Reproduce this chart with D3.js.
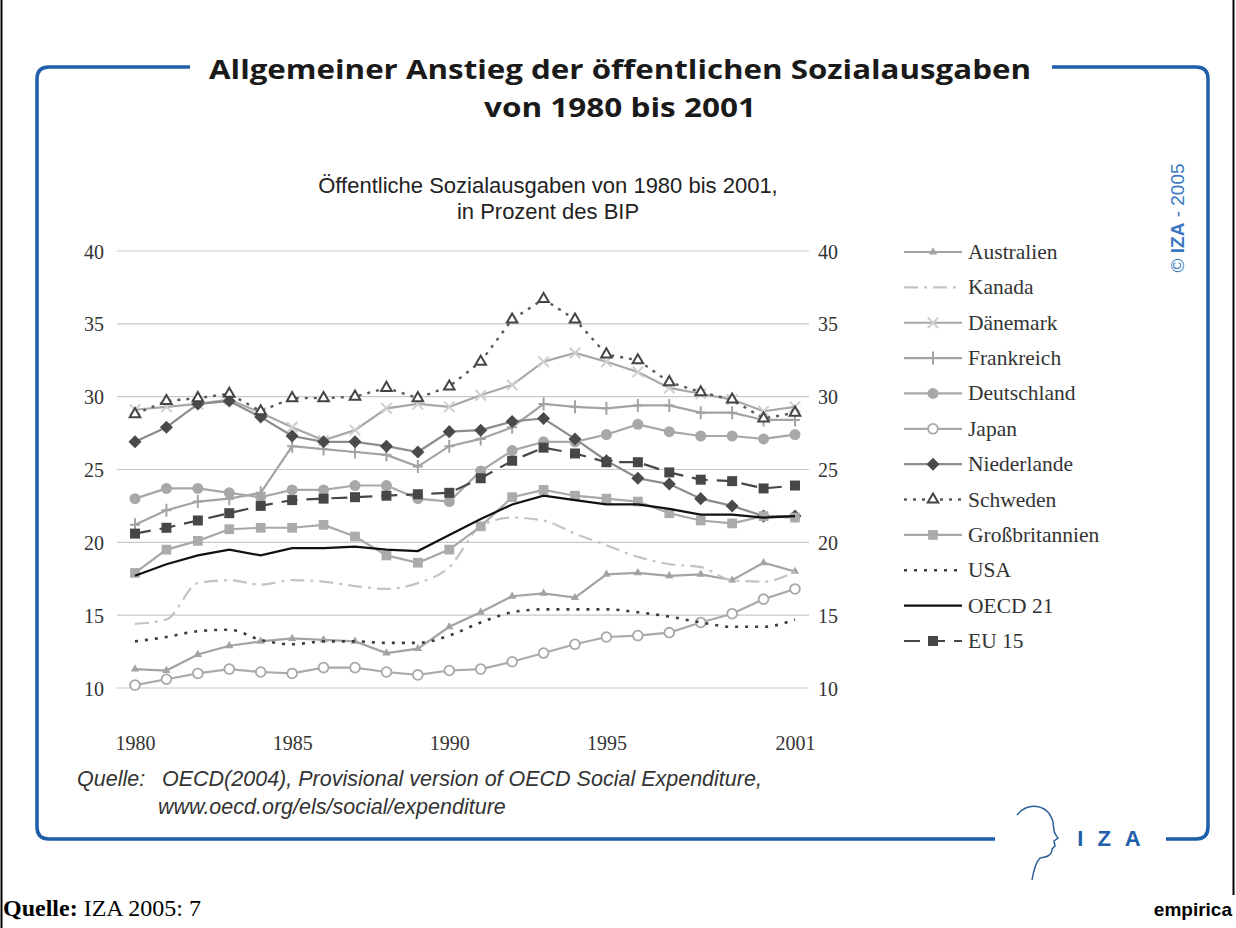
<!DOCTYPE html>
<html lang="de">
<head>
<meta charset="utf-8">
<title>Sozialausgaben</title>
<script src="https://cdn.jsdelivr.net/npm/d3@7"></script>
<style>
    body { margin: 0; background: #fff; }
    svg { display: block; }
    .axis text { font-family: "Liberation Serif", serif; font-size: 20px; fill: #333; }
    .axis path, .axis line { display: none; }
    .grid line { stroke: #c8c8c8; stroke-width: 1.2; }
    .legend text { font-family: "Liberation Serif", serif; font-size: 21.5px; fill: #333; }
</style>
</head>
<body>
<div id="chart"></div>
<script>

// years on the x axis
var years = d3.range(1980, 2002);
var xTicks = [1980, 1985, 1990, 1995, 2001];
var yTicks = [10, 15, 20, 25, 30, 35, 40];

// values (% of GDP)
var australien   = [11.3, 11.2, 12.3, 12.9, 13.2, 13.4, 13.3, 13.2, 12.4, 12.7, 14.2, 15.2, 16.3, 16.5, 16.2, 17.8, 17.9, 17.7, 17.8, 17.4, 18.6, 18.0];
var kanada       = [14.4, 14.7, 17.2, 17.4, 17.1, 17.4, 17.3, 17.0, 16.8, 17.2, 18.3, 21.1, 21.7, 21.5, 20.6, 19.8, 19.0, 18.5, 18.3, 17.4, 17.3, 18.0];
var daenemark    = [29.1, 29.3, 29.5, 29.8, 28.9, 27.9, 27.0, 27.7, 29.2, 29.5, 29.3, 30.1, 30.8, 32.4, 33.0, 32.4, 31.7, 30.6, 30.2, 29.8, 29.0, 29.3];
var frankreich   = [21.2, 22.2, 22.8, 23.0, 23.4, 26.6, 26.4, 26.2, 26.0, 25.2, 26.6, 27.1, 27.9, 29.5, 29.3, 29.2, 29.4, 29.4, 28.9, 28.9, 28.4, 28.4];
var deutschland  = [23.0, 23.7, 23.7, 23.4, 23.1, 23.6, 23.6, 23.9, 23.9, 23.0, 22.8, 24.9, 26.3, 26.9, 26.9, 27.4, 28.1, 27.6, 27.3, 27.3, 27.1, 27.4];
var japan        = [10.2, 10.6, 11.0, 11.3, 11.1, 11.0, 11.4, 11.4, 11.1, 10.9, 11.2, 11.3, 11.8, 12.4, 13.0, 13.5, 13.6, 13.8, 14.5, 15.1, 16.1, 16.8];
var niederlande  = [26.9, 27.9, 29.5, 29.7, 28.6, 27.3, 26.9, 26.9, 26.6, 26.2, 27.6, 27.7, 28.3, 28.5, 27.1, 25.6, 24.4, 24.0, 23.0, 22.5, 21.8, 21.8];
var schweden     = [28.8, 29.7, 29.9, 30.2, 29.0, 29.9, 29.9, 30.0, 30.6, 29.9, 30.7, 32.4, 35.3, 36.7, 35.3, 32.9, 32.5, 31.0, 30.3, 29.8, 28.5, 28.9];
var grossbritannien = [17.9, 19.5, 20.1, 20.9, 21.0, 21.0, 21.2, 20.4, 19.1, 18.6, 19.5, 21.1, 23.1, 23.6, 23.2, 23.0, 22.8, 22.0, 21.5, 21.3, 21.8, 21.7];
var usa          = [13.2, 13.5, 13.9, 14.0, 13.3, 13.0, 13.2, 13.2, 13.1, 13.1, 13.6, 14.5, 15.2, 15.4, 15.4, 15.4, 15.2, 14.9, 14.5, 14.2, 14.2, 14.7];
var oecd21       = [17.7, 18.5, 19.1, 19.5, 19.1, 19.6, 19.6, 19.7, 19.5, 19.4, 20.5, 21.6, 22.6, 23.2, 22.9, 22.6, 22.6, 22.3, 21.9, 21.9, 21.7, 21.8];
var eu15         = [20.6, 21.0, 21.5, 22.0, 22.5, 22.9, 23.0, 23.1, 23.2, 23.3, 23.4, 24.4, 25.6, 26.5, 26.1, 25.5, 25.5, 24.8, 24.3, 24.2, 23.7, 23.9];

var names = ["Australien", "Kanada", "Dänemark", "Frankreich", "Deutschland", "Japan",
             "Niederlande", "Schweden", "Großbritannien", "USA", "OECD 21", "EU 15"];

// custom marker shapes
var symX = { draw: function(c, s) { var r = Math.sqrt(s) / 2;
    c.moveTo(-r, -r); c.lineTo(r, r); c.moveTo(r, -r); c.lineTo(-r, r); } };
var symPlus = { draw: function(c, s) { var r = Math.sqrt(s) / 2;
    c.moveTo(-r, 0); c.lineTo(r, 0); c.moveTo(0, -r * 1.3); c.lineTo(0, r * 1.3); } };
var symDiamond = { draw: function(c, s) { var r = Math.sqrt(s) / 2;
    c.moveTo(0, -r); c.lineTo(r, 0); c.lineTo(0, r); c.lineTo(-r, 0); c.closePath(); } };

var series = [
    {name: names[0], values: australien, color: "#a3a3a3", width: 2.2, dash: null, curve: false,
        marker: {type: d3.symbolTriangle, size: 30, fill: "#a3a3a3", stroke: "none"}},
    {name: names[1], values: kanada, color: "#c4c4c4", width: 2.2, dash: "14,6,3,6", curve: true, marker: null},
    {name: names[2], values: daenemark, color: "#a8a8a8", width: 2.2, dash: null, curve: false,
        marker: {type: symX, size: 110, fill: "none", stroke: "#cfcfcf", sw: 2}},
    {name: names[3], values: frankreich, color: "#a3a3a3", width: 2.2, dash: null, curve: false,
        marker: {type: symPlus, size: 100, fill: "none", stroke: "#a3a3a3", sw: 2}},
    {name: names[4], values: deutschland, color: "#a8a8a8", width: 2.2, dash: null, curve: false,
        marker: {type: d3.symbolCircle, size: 95, fill: "#a8a8a8", stroke: "none"}},
    {name: names[5], values: japan, color: "#aaaaaa", width: 2.2, dash: null, curve: false,
        marker: {type: d3.symbolCircle, size: 75, fill: "#fff", stroke: "#a8a8a8", sw: 1.8}},
    {name: names[6], values: niederlande, color: "#8c8c8c", width: 2.2, dash: null, curve: false,
        marker: {type: symDiamond, size: 170, fill: "#4a4a4a", stroke: "none"}},
    {name: names[7], values: schweden, color: "#5a5a5a", width: 2.4, dash: "3,6", curve: false,
        marker: {type: d3.symbolTriangle, size: 48, fill: "#fff", stroke: "#444", sw: 2}},
    {name: names[8], values: grossbritannien, color: "#a8a8a8", width: 2.2, dash: null, curve: false,
        marker: {type: d3.symbolSquare, size: 95, fill: "#ababab", stroke: "none"}},
    {name: names[9], values: usa, color: "#3c3c3c", width: 2.6, dash: "3,7", curve: true, marker: null},
    {name: names[10], values: oecd21, color: "#111", width: 2.2, dash: null, curve: false, marker: null},
    {name: names[11], values: eu15, color: "#474747", width: 2.2, dash: "16,9", curve: false,
        marker: {type: d3.symbolSquare, size: 100, fill: "#474747", stroke: "none"}}
];

var W = 1236, H = 928;
var svg = d3.select("#chart").append("svg")
    .attr("width", W)
    .attr("height", H);

// outer page frame
svg.append("line").attr("x1", 1.5).attr("x2", 1.5).attr("y1", 0).attr("y2", H)
    .attr("stroke", "#000").attr("stroke-width", 2);
svg.append("line").attr("x1", 1233.5).attr("x2", 1233.5).attr("y1", 0).attr("y2", 895)
    .attr("stroke", "#000").attr("stroke-width", 2);

// blue rounded frame with gaps for title and logo
var blue = "#1f5ea8";
var fl = 37, fr = 1208, ft = 67, fb = 839, rad = 12;
svg.append("path")
    .attr("d", "M190," + ft + " L" + (fl + rad) + "," + ft +
        " Q" + fl + "," + ft + " " + fl + "," + (ft + rad) +
        " L" + fl + "," + (fb - rad) + " Q" + fl + "," + fb + " " + (fl + rad) + "," + fb +
        " L995," + fb)
    .attr("fill", "none").attr("stroke", blue).attr("stroke-width", 3.5);
svg.append("path")
    .attr("d", "M1052," + ft + " L" + (fr - rad) + "," + ft +
        " Q" + fr + "," + ft + " " + fr + "," + (ft + rad) +
        " L" + fr + "," + (fb - rad) + " Q" + fr + "," + fb + " " + (fr - rad) + "," + fb +
        " L1166," + fb)
    .attr("fill", "none").attr("stroke", blue).attr("stroke-width", 3.5);

// title
svg.append("text")
    .attr("x", 620).attr("y", 79)
    .attr("text-anchor", "middle")
    .attr("textLength", 822).attr("lengthAdjust", "spacingAndGlyphs")
    .style("font-family", "'Open Sans', sans-serif").style("font-weight", "bold")
    .style("font-size", "27.5px").style("fill", "#1a1a1a")
    .text("Allgemeiner Anstieg der öffentlichen Sozialausgaben");
svg.append("text")
    .attr("x", 620).attr("y", 117)
    .attr("text-anchor", "middle")
    .attr("textLength", 272).attr("lengthAdjust", "spacingAndGlyphs")
    .style("font-family", "'Open Sans', sans-serif").style("font-weight", "bold")
    .style("font-size", "27.5px").style("fill", "#1a1a1a")
    .text("von 1980 bis 2001");

// subtitle
var sub = svg.append("text")
    .attr("text-anchor", "middle")
    .style("font-family", "'Liberation Sans', Arial, sans-serif")
    .style("font-size", "22px").style("fill", "#222");
sub.append("tspan").attr("x", 548).attr("y", 193).text("Öffentliche Sozialausgaben von 1980 bis 2001,");
sub.append("tspan").attr("x", 548).attr("y", 219).text("in Prozent des BIP");

// copyright, vertical
var copy = svg.append("text")
    .attr("transform", "translate(1184,218) rotate(-90)")
    .attr("text-anchor", "middle")
    .style("font-family", "'Liberation Sans', Arial, sans-serif")
    .style("font-size", "19px").style("fill", "#3b78c2");
copy.append("tspan").text("© ");
copy.append("tspan").style("font-weight", "bold").text("IZA");
copy.append("tspan").text(" - 2005");

// chart area
var margin = {left: 117, right: 809, top: 251, bottom: 688};
var x = d3.scaleLinear().domain([1980, 2001]).range([135, 795]);
var y = d3.scaleLinear().domain([10, 40]).range([margin.bottom, margin.top]);

svg.append("g").attr("class", "grid")
    .selectAll("line").data(yTicks).enter().append("line")
    .attr("x1", margin.left).attr("x2", margin.right)
    .attr("y1", function(d) { return y(d); })
    .attr("y2", function(d) { return y(d); });

svg.append("g").attr("class", "axis")
    .attr("transform", "translate(104,0)")
    .call(d3.axisLeft(y).tickValues(yTicks).tickSize(0).tickPadding(0))
    .selectAll("text").attr("dy", "0.35em");

svg.append("g").attr("class", "axis")
    .attr("transform", "translate(818,0)")
    .call(d3.axisRight(y).tickValues(yTicks).tickSize(0).tickPadding(0))
    .selectAll("text").attr("dy", "0.35em");

svg.append("g").attr("class", "axis")
    .attr("transform", "translate(0,736)")
    .call(d3.axisBottom(x).tickValues(xTicks).tickFormat(d3.format("d")).tickSize(0).tickPadding(0));

// lines and markers
series.forEach(function(s) {
    var pts = years.map(function(yr, i) { return [yr, s.values[i]]; });
    var line = d3.line()
        .x(function(d) { return x(d[0]); })
        .y(function(d) { return y(d[1]); })
        .curve(s.curve ? d3.curveMonotoneX : d3.curveLinear);

    svg.append("path")
        .datum(pts)
        .attr("fill", "none")
        .attr("stroke", s.color)
        .attr("stroke-width", s.width)
        .attr("stroke-dasharray", s.dash)
        .attr("d", line);

    if (s.marker) {
        var sym = d3.symbol().type(s.marker.type).size(s.marker.size);
        svg.append("g").selectAll("path").data(pts).enter().append("path")
            .attr("transform", function(d) { return "translate(" + x(d[0]) + "," + y(d[1]) + ")"; })
            .attr("d", sym)
            .attr("fill", s.marker.fill)
            .attr("stroke", s.marker.stroke)
            .attr("stroke-width", s.marker.sw || 0);
    }
});

// legend
var legend = svg.append("g").attr("class", "legend");
var ly = d3.scalePoint().domain(names).range([252, 641]);
series.forEach(function(s) {
    var g = legend.append("g").attr("transform", "translate(0," + ly(s.name) + ")");
    g.append("line")
        .attr("x1", 904).attr("x2", 962)
        .attr("stroke", s.color).attr("stroke-width", s.width)
        .attr("stroke-dasharray", s.dash);
    if (s.marker) {
        g.append("path")
            .attr("transform", "translate(933,0)")
            .attr("d", d3.symbol().type(s.marker.type).size(s.marker.size)())
            .attr("fill", s.marker.fill)
            .attr("stroke", s.marker.stroke)
            .attr("stroke-width", s.marker.sw || 0);
    }
    g.append("text").attr("x", 968).attr("y", 7).text(s.name);
});

// source line inside the frame
var src = svg.append("g")
    .style("font-family", "'Liberation Sans', Arial, sans-serif")
    .style("font-size", "21.5px").style("font-style", "italic").style("fill", "#333");
src.append("text").attr("x", 77).attr("y", 786).text("Quelle:");
src.append("text").attr("x", 162).attr("y", 786).text("OECD(2004), Provisional version of OECD Social Expenditure,");
src.append("text").attr("x", 158).attr("y", 814).text("www.oecd.org/els/social/expenditure");

// IZA logo
svg.append("path")
    .attr("d", "M1017,815 C1026,802 1048,803 1053,822 C1054,829 1053,832 1058,838 L1054,841 L1055,846 L1052,849 C1052,856 1046,857 1040,858 C1036,862 1034,868 1032,880")
    .attr("fill", "none").attr("stroke", "#2b5f9c").attr("stroke-width", 1.5);
svg.append("text")
    .attr("x", 1116).attr("y", 846)
    .attr("text-anchor", "middle")
    .style("font-family", "'Liberation Sans', Arial, sans-serif")
    .style("font-weight", "bold").style("font-size", "22px")
    .style("letter-spacing", "14px").style("fill", blue)
    .text("IZA");

// footer
var foot = svg.append("text")
    .attr("x", 3).attr("y", 916)
    .style("font-family", "'Liberation Serif', serif")
    .style("font-size", "24px").style("fill", "#000");
foot.append("tspan").style("font-weight", "bold").text("Quelle:");
foot.append("tspan").text(" IZA 2005: 7");

svg.append("text")
    .attr("x", 1232).attr("y", 916)
    .attr("text-anchor", "end")
    .style("font-family", "'Liberation Sans', Arial, sans-serif")
    .style("font-weight", "bold").style("font-size", "19px").style("fill", "#000")
    .text("empirica");

</script>
</body>
</html>
